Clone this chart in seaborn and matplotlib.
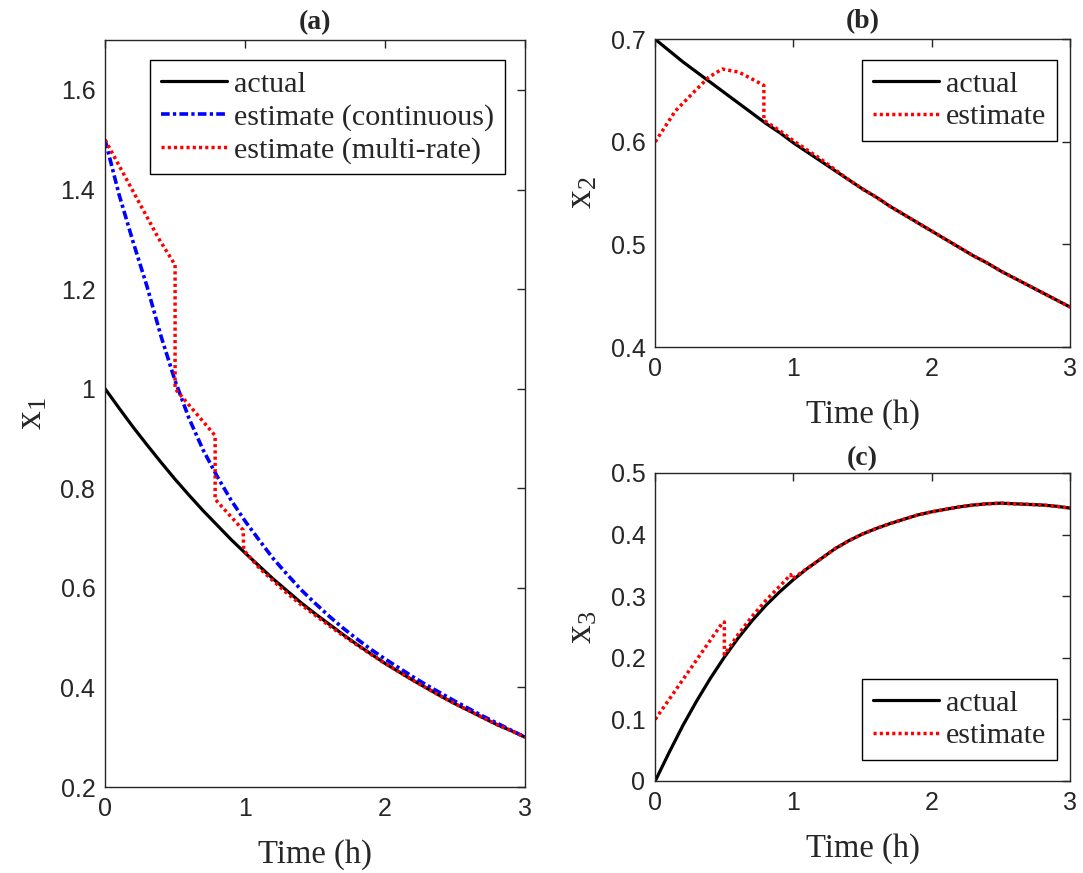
import numpy as np
import pandas as pd
import matplotlib
matplotlib.use("Agg")
import matplotlib.pyplot as plt
from matplotlib.ticker import FuncFormatter
import seaborn as sns

# ---------------- data ----------------
t_grid = [0.0, 0.1, 0.2, 0.3, 0.4, 0.5, 0.6, 0.7, 0.8, 0.9, 1.0,
          1.1, 1.2, 1.3, 1.4, 1.5, 1.6, 1.7, 1.8, 1.9, 2.0,
          2.1, 2.2, 2.3, 2.4, 2.5, 2.6, 2.7, 2.8, 2.9, 3.0]

x1_actual = [1.000, 0.961, 0.923, 0.887, 0.852, 0.818, 0.786, 0.755, 0.726, 0.697, 0.670,
             0.644, 0.618, 0.594, 0.570, 0.548, 0.527, 0.506, 0.486, 0.467, 0.448,
             0.431, 0.414, 0.398, 0.382, 0.367, 0.353, 0.339, 0.325, 0.313, 0.300]
x1_continuous = [1.500, 1.390, 1.295, 1.205, 1.105, 1.016, 0.940, 0.877, 0.824, 0.776, 0.734,
                 0.696, 0.659, 0.627, 0.596, 0.569, 0.543, 0.519, 0.497, 0.476, 0.457,
                 0.439, 0.421, 0.404, 0.388, 0.372, 0.357, 0.342, 0.328, 0.314, 0.300]
t_x1_multi = [0.0, 0.38, 0.49, 0.50, 0.50, 0.77, 0.786, 0.786, 0.986, 0.99,
              1.1, 1.2, 1.3, 1.4, 1.5, 1.6, 1.7, 1.8, 1.9, 2.0,
              2.1, 2.2, 2.3, 2.4, 2.5, 2.6, 2.7, 2.8, 2.9, 3.0]
x1_multi = [1.500, 1.303, 1.253, 1.250, 1.000, 0.911, 0.905, 0.778, 0.716, 0.676,
            0.640, 0.614, 0.589, 0.566, 0.545, 0.524, 0.504, 0.485, 0.466, 0.448,
            0.431, 0.414, 0.398, 0.382, 0.367, 0.353, 0.339, 0.325, 0.313, 0.300]

x2_actual = [0.700, 0.689, 0.678, 0.668, 0.658, 0.648, 0.638, 0.628, 0.618, 0.609, 0.599,
             0.590, 0.581, 0.572, 0.563, 0.554, 0.546, 0.537, 0.529, 0.521, 0.513,
             0.505, 0.497, 0.489, 0.482, 0.474, 0.467, 0.460, 0.453, 0.446, 0.439]
t_x2_est = [0.0, 0.145, 0.29, 0.387, 0.484, 0.605, 0.774, 0.786, 0.786,
            0.9, 1.0, 1.1, 1.2, 1.3, 1.4, 1.5, 1.6, 1.7, 1.8, 1.9, 2.0,
            2.1, 2.2, 2.3, 2.4, 2.5, 2.6, 2.7, 2.8, 2.9, 3.0]
x2_est = [0.600, 0.630, 0.650, 0.663, 0.671, 0.668, 0.656, 0.655, 0.621,
          0.611, 0.601, 0.592, 0.583, 0.573, 0.563, 0.554, 0.546, 0.537, 0.529, 0.521, 0.513,
          0.505, 0.497, 0.489, 0.482, 0.474, 0.467, 0.460, 0.453, 0.446, 0.439]

x3_actual = [0.000, 0.046, 0.090, 0.130, 0.167, 0.201, 0.232, 0.260, 0.285, 0.307, 0.327,
             0.345, 0.361, 0.377, 0.390, 0.401, 0.410, 0.418, 0.425, 0.432, 0.437,
             0.441, 0.445, 0.448, 0.450, 0.451, 0.450, 0.449, 0.448, 0.446, 0.443]
t_x3_est = [0.0, 0.49, 0.50, 0.50, 0.6, 0.7, 0.8, 0.9, 0.98, 0.99,
            1.1, 1.2, 1.3, 1.4, 1.5, 1.6, 1.7, 1.8, 1.9, 2.0,
            2.1, 2.2, 2.3, 2.4, 2.5, 2.6, 2.7, 2.8, 2.9, 3.0]
x3_est = [0.100, 0.258, 0.258, 0.205, 0.238, 0.267, 0.293, 0.316, 0.335, 0.328,
          0.345, 0.361, 0.377, 0.390, 0.401, 0.410, 0.418, 0.425, 0.432, 0.437,
          0.441, 0.445, 0.448, 0.450, 0.451, 0.450, 0.449, 0.448, 0.446, 0.443]

x_ticks = [0, 1, 2, 3]
yticks_a = [0.2, 0.4, 0.6, 0.8, 1.0, 1.2, 1.4, 1.6]
yticks_b = [0.4, 0.5, 0.6, 0.7]
yticks_c = [0.0, 0.1, 0.2, 0.3, 0.4, 0.5]

# ---------------- style ----------------
sns.set_style("white")
AX_COL = "#262626"
SERIF = "Liberation Serif"
SANS = "Liberation Sans"
plt.rcParams.update({
    "font.family": [SANS, "DejaVu Sans"],
    "mathtext.fontset": "custom",
    "mathtext.rm": SERIF,
    "mathtext.it": SERIF,
    "axes.edgecolor": AX_COL,
    "axes.linewidth": 1.0,
    "xtick.direction": "in",
    "ytick.direction": "in",
    "xtick.color": AX_COL,
    "ytick.color": AX_COL,
    "xtick.major.size": 6,
    "ytick.major.size": 6,
    "xtick.major.width": 1.0,
    "ytick.major.width": 1.0,
    "xtick.top": True,
    "ytick.right": True,
})

fig = plt.figure(figsize=(10.83, 8.73), dpi=100)
ax_a = fig.add_axes([0.097, 0.0985, 0.388, 0.8555])
ax_b = fig.add_axes([0.605, 0.6025, 0.383, 0.3525])
ax_c = fig.add_axes([0.605, 0.1054, 0.383, 0.3528])

LW_K, LW_B, LW_R = 2.3, 2.6, 2.5
LS_B = (0, (2.4, 0.9, 0.9, 0.9))
LS_R = (0, (0.9, 0.9))
fmt = FuncFormatter(lambda v, p: "%g" % round(v, 3))


def style_axes(ax, yticks, ylim, ylabel, title, title_pad):
    ax.set_xlim(0, 3)
    ax.set_ylim(*ylim)
    ax.set_xticks(x_ticks)
    ax.set_yticks(yticks)
    ax.xaxis.set_major_formatter(fmt)
    ax.yaxis.set_major_formatter(fmt)
    ax.tick_params(axis="x", labelsize=18, labelcolor=AX_COL, pad=7.5)
    ax.tick_params(axis="y", labelsize=18, labelcolor=AX_COL, pad=7)
    ax.set_xlabel("Time (h)", family=SERIF, fontsize=23.5, color=AX_COL, labelpad=13)
    ax.set_ylabel(ylabel, fontsize=27, color=AX_COL, labelpad=8)
    ax.set_title(title, family=SERIF, fontweight="bold", fontsize=20, pad=title_pad)
    for s in ax.spines.values():
        s.set_visible(True)
        s.set_color(AX_COL)


def legend(ax, loc, anchor):
    lg = ax.legend(loc=loc, bbox_to_anchor=anchor, borderaxespad=0,
                   prop={"family": SERIF, "size": 21.7}, frameon=True,
                   fancybox=False, edgecolor="black", framealpha=1,
                   handlelength=2.2, handletextpad=0.25, labelspacing=0.18,
                   borderpad=0.35)
    lg.get_frame().set_linewidth(1.0)


# ---------------- panel (a) ----------------
sns.lineplot(x=t_grid, y=x1_actual, ax=ax_a, color="black", lw=LW_K,
             estimator=None, sort=False, label="actual")
sns.lineplot(x=t_grid, y=x1_continuous, ax=ax_a, color="blue", lw=LW_B,
             linestyle=LS_B, estimator=None, sort=False, label="estimate (continuous)")
sns.lineplot(x=t_x1_multi, y=x1_multi, ax=ax_a, color="red", lw=LW_R,
             linestyle=LS_R, estimator=None, sort=False, label="estimate (multi-rate)")
style_axes(ax_a, yticks_a, (0.2, 1.7), r"$\mathrm{x_1}$", "(a)", 8)
legend(ax_a, "upper right", (0.952, 0.973))

# ---------------- panel (b) ----------------
sns.lineplot(x=t_grid, y=x2_actual, ax=ax_b, color="black", lw=LW_K,
             estimator=None, sort=False, label="actual")
sns.lineplot(x=t_x2_est, y=x2_est, ax=ax_b, color="red", lw=LW_R,
             linestyle=LS_R, estimator=None, sort=False, label="estimate")
style_axes(ax_b, yticks_b, (0.4, 0.7), r"$\mathrm{x_2}$", "(b)", 8)
legend(ax_b, "upper right", (0.969, 0.932))

# ---------------- panel (c) ----------------
sns.lineplot(x=t_grid, y=x3_actual, ax=ax_c, color="black", lw=LW_K,
             estimator=None, sort=False, label="actual")
sns.lineplot(x=t_x3_est, y=x3_est, ax=ax_c, color="red", lw=LW_R,
             linestyle=LS_R, estimator=None, sort=False, label="estimate")
style_axes(ax_c, yticks_c, (0.0, 0.5), r"$\mathrm{x_3}$", "(c)", 6)
legend(ax_c, "lower right", (0.969, 0.068))

fig.savefig("out.png", dpi=100)
